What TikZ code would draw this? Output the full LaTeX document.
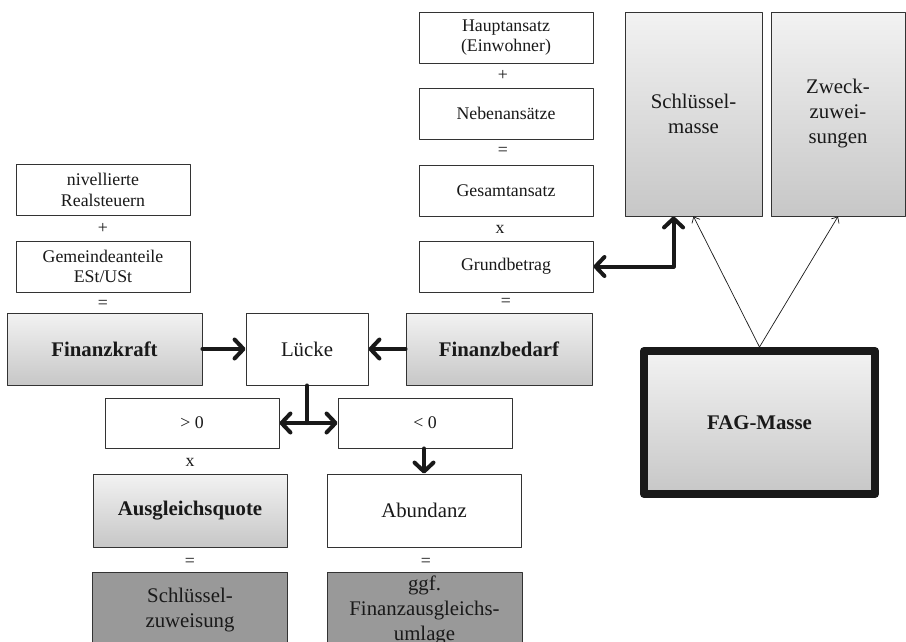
\documentclass[tikz,border=0pt]{standalone}
\usepackage{fontspec}
\setmainfont{Liberation Serif}
\usetikzlibrary{arrows.meta}
\newcommand{\klein}{\fontsize{17.8}{20.6}\selectfont}
\newcommand{\gross}{\fontsize{20.8}{25}\selectfont}
\begin{document}
\begin{tikzpicture}[x=1pt, y=-1pt, line join=round, line cap=round,
	every node/.style={text=black!90, align=center, inner sep=0pt},
	box/.style={draw=black!80, line width=0.9pt, fill=white, minimum width=174, minimum height=51, font=\klein},
	shadebox/.style={draw=black!80, line width=0.9pt, top color=black!5, bottom color=black!22, minimum height=72, font=\gross\bfseries},
	darkbox/.style={draw=black!80, line width=0.9pt, fill=black!40, minimum width=195, minimum height=76, font=\gross},
	fagbox/.style={draw=black!90, line width=8pt, top color=black!5, bottom color=black!22, minimum width=231, minimum height=143, font=\gross\bfseries},
	op/.style={font=\klein},
	fat/.style={line width=4pt, draw=black!90, >={Straight Barb[length=9pt,width=19pt,round]}},
	slim/.style={line width=0.7pt, draw=black!90, >={Straight Barb[length=5pt,width=9pt]}}]
	\clip (0,0) rectangle (906,641);
	\node[box] (niv) at (103,190) {nivellierte\\Realsteuern};
	\node[box] (gem) at (103,266.5) {Gemeindeanteile\\ESt/USt};
	\node[shadebox, minimum width=195] (fkraft) at (104.5,349) {Finanzkraft};
	\node[box, minimum width=122, minimum height=72, font=\gross] (luecke) at (307,349) {Lücke};
	\node[shadebox, minimum width=186] (fbedarf) at (499,349) {Finanzbedarf};
	\node[box] (haupt) at (506,37.5) {Hauptansatz\\(Einwohner)};
	\node[box] (neben) at (506,113.5) {Nebenansätze};
	\node[box] (gesamt) at (506,190.5) {Gesamtansatz};
	\node[box] (grund) at (506,266.5) {Grundbetrag};
	\node[shadebox, minimum width=137, minimum height=204, font=\gross] (skmasse) at (693.5,114) {Schlüssel-\\masse};
	\node[shadebox, minimum width=134, minimum height=204, font=\gross] (zweck) at (838,114) {Zweck-\\zuwei-\\sungen};
	\node[fagbox] (fag) at (759.5,422.5) {FAG-Masse};
	\node[box, minimum height=50] (gt0) at (192,423) {> 0};
	\node[box, minimum height=50] (lt0) at (425,423) {< 0};
	\node[shadebox, minimum width=194, minimum height=73] (quote) at (190,510.5) {Ausgleichsquote};
	\node[box, minimum width=194, minimum height=73, font=\gross] (abund) at (424,510.5) {Abundanz};
	\node[darkbox] (szuw) at (190,610) {Schlüssel-\\zuweisung};
	\node[darkbox] (umlage) at (424.5,610) {ggf.\\Finanzausgleichs-\\umlage};
	\foreach \nm/\px/\py/\sy in {p1/103/228/+, e1/103/304/=, p2/503/75/+, e2/503/151/=, m1/500/229/x,
		e3/506/302/=, m2/190/462/x, e4/190/562/=, e5/426/562/=}
	\node[op] (\nm) at (\px,\py) {\sy};
	\coordinate (split) at (luecke.south |- gt0.east);
	\draw[fat,->] (fkraft) -- (luecke);
	\draw[fat,->] (fbedarf) -- (luecke);
	\draw[fat] (luecke.south) -- (split);
	\draw[fat,->] (split) -- (gt0.east);
	\draw[fat,->] (split) -- (lt0.west);
	\draw[fat,->] (lt0.south -| abund.north) -- (abund.north);
	\draw[fat,<->] (grund.east) -| ([xshift=49pt]skmasse.south west);
	\draw[slim,->] (fag.north) -- (skmasse.south);
	\draw[slim,->] (fag.north) -- (zweck.south);
\end{tikzpicture}
\end{document}
